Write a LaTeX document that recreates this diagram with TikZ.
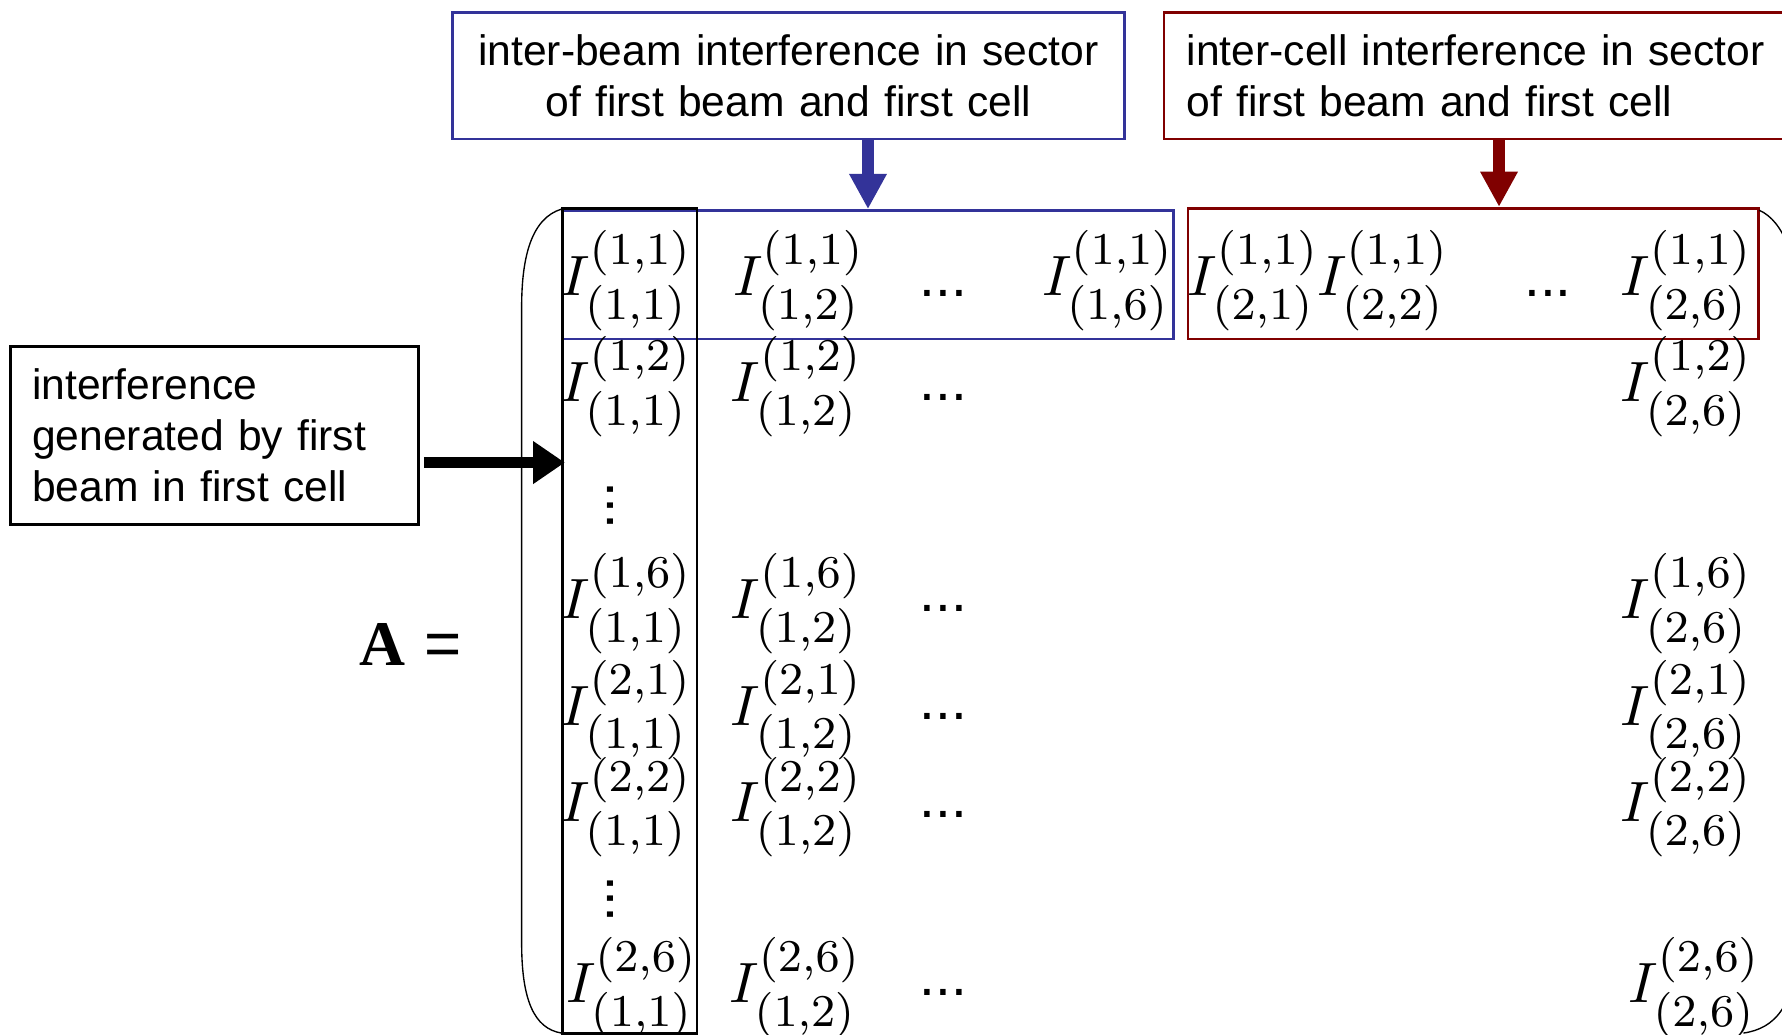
\documentclass[tikz,border=0pt]{standalone}
\usepackage{amsmath}
\usepackage{fontspec}
\usepackage{tikz}
\usetikzlibrary{arrows.meta}

\newfontfamily\boxfont{Liberation Sans}
\newfontfamily\lhsfont{Liberation Serif}
\DeclareMathSizes{10}{10}{8}{6}
\definecolor{beamblue}{RGB}{51,51,153}
\definecolor{cellred}{RGB}{128,0,0}
\newcommand{\Ient}[2]{$I^{(#1)}_{(#2)}$}

\begin{document}
\begin{tikzpicture}
  [x=1pt, y=-1pt,
   lbl/.style={draw, line width=2.5pt, anchor=north west, inner ysep=0pt,
     font=\boxfont\fontsize{37.5}{45}\selectfont},
   rowframe/.style={draw, line width=2.5pt, anchor=north west, inner sep=0pt},
   ent/.style={inner sep=0pt, scale=5},
   dts/.style={inner sep=0pt, font=\boxfont\fontsize{50}{60}\selectfont},
   fat/.style={line width=10pt, -{Triangle[length=31pt,width=31pt]}}]
  \useasboundingbox (0,0) rectangle (1568,910);

  % the three labels
  \node[lbl, draw=beamblue, inner xsep=0pt, text width=591pt, minimum height=111pt, align=center]
    (beamlbl) at (397,10) {inter-beam interference in sector\\ of first beam and first cell};
  \node[lbl, draw=cellred, inner xsep=20pt, text width=557pt, minimum height=111pt, align=left]
    (celllbl) at (1023,10) {inter-cell interference in sector\\ of first beam and first cell};
  \node[lbl, inner xsep=19pt, text width=321pt, minimum height=156pt, align=left]
    (genlbl) at (8,304) {interference\\ generated by first\\ beam in first cell};

  \node[font=\fontsize{56}{60}\selectfont, inner sep=0pt] (lhs) at (361,567) {{\lhsfont\bfseries A} {\boxfont =}};

  % frames on the matrix
  \node[rowframe, draw=beamblue, minimum width=537pt, minimum height=113pt] (beamrow) at (494,184) {};
  \node[rowframe, draw=cellred, minimum width=502pt, minimum height=115pt] (cellrow) at (1044,182) {};
  \node[rowframe, minimum width=118pt, minimum height=726pt] (firstcol) at (494,182) {};

  \draw[line width=1.2pt] (494,184) .. controls (468,192) and (459,225) .. (459,270)
    -- (459,830) .. controls (459,880) and (470,905) .. (494,909);
  \draw[line width=1.2pt] (1548,185) .. controls (1570,195) and (1581,228) .. (1582,270)
    -- (1582,830) .. controls (1580,885) and (1562,905) .. (1534,909);

  % first row
  \node[ent] (r1c1) at (551,247) {\Ient{1,1}{1,1}};
  \node[ent] (r1c2) at (703,247) {\Ient{1,1}{1,2}};
  \node[dts] (r1d1) at (830,258) {...};
  \node[ent] (r1c6) at (975,247) {\Ient{1,1}{1,6}};
  \node[ent] (r1c7) at (1103,247) {\Ient{1,1}{2,1}};
  \node[ent] (r1c8) at (1217,247) {\Ient{1,1}{2,2}};
  \node[dts] (r1d2) at (1362,258) {...};
  \node[ent] (r1c12) at (1484,247) {\Ient{1,1}{2,6}};

  \foreach \i/\s/\y/\d in {2/{1,2}/340/350, 3/{1,6}/531/535, 4/{2,1}/625/630, 5/{2,2}/710/717} {
    \node[ent] (r\i c1) at (551,\y) {\Ient{\s}{1,1}};
    \node[ent] (r\i c2) at (701,\y) {\Ient{\s}{1,2}};
    \node[dts] (r\i d1) at (830,\d) {...};
    \node[ent] (r\i c12) at (1484,\y) {\Ient{\s}{2,6}};
  }
  \node[dts, rotate=90] (v1) at (537,445) {...};
  \node[dts, rotate=90] (v2) at (537,791) {...};

  \node[ent] (r12c1) at (556,869) {\Ient{2,6}{1,1}};
  \node[ent] (r12c2) at (700,869) {\Ient{2,6}{1,2}};
  \node[dts] (r12d1) at (830,873) {...};
  \node[ent] (r12c12) at (1491,869) {\Ient{2,6}{2,6}};

  % arrows
  \coordinate (cellarr) at (1319,182);
  \coordinate (genarr) at (497,407);
  \coordinate (genout) at (373,407);
  \draw[fat, beamblue] (beamlbl.south -| beamrow.north) -- (beamrow.north);
  \draw[fat, cellred] (celllbl.south -| cellarr) -- (cellarr);
  \draw[line width=10pt, -{Triangle[length=28pt,width=36pt]}] (genout) -- (genarr);
\end{tikzpicture}
\end{document}
